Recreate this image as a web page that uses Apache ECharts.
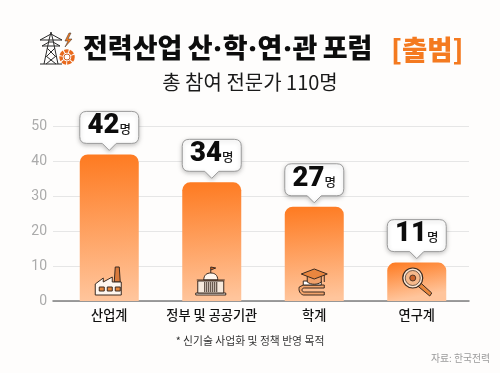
<!DOCTYPE html>
<html><head><meta charset="utf-8">
<style>html,body{margin:0;padding:0;background:#fefdfc}#c{width:500px;height:373px}</style>
<script src="https://cdn.jsdelivr.net/npm/echarts@6/dist/echarts.min.js"></script></head>
<body><div id="c"></div>
<script>
const categories = ['산업계', '정부 및 공공기관', '학계', '연구계'];
const values = [42, 34, 27, 11];
const yTicks = [0, 10, 20, 30, 40, 50];
const titleMain = '전력산업 산·학·연·관 포럼';
const titleTag = '[출범]';
const subtitle = '총 참여 전문가 110명';
const note = '* 신기술 사업화 및 정책 반영 목적';
const source = '자료: 한국전력';
const unit = '명';
const FONT = '"Noto Sans CJK KR"';
const TITLEFONT = 'Inter, "Noto Sans CJK KR"';
const INK = '#3a2a20';

function iconPath(d, x, y, fill, lw) {
  return { type: 'path', x: x, y: y, shape: { pathData: d },
    style: { fill: fill || 'none', stroke: INK, lineWidth: lw || 1 }, silent: true };
}
const icons = [
  [['M5 -19 L6 -34 H10 L11 -19 Z', '#d97a3c'],
   ['M-14 -6 V-17 L-6 -23 V-19 L3 -24 V-19 H12 V-6 Z', '#fff6ee'],
   ['M-10 -14 H-5 V-10 H-10 Z M-2 -14 H3 V-10 H-2 Z M6 -14 H11 V-10 H6 Z', '#e8873c']],
  [['M-16 -6 H14 V-8 H-16 Z', '#fff6ee'],
   ['M-14 -8 V-20 H12 V-8 Z', '#f6e9dc'],
   ['M-8 -21 C-8 -26 -5 -28 -1 -28 C3 -28 6 -26 6 -21 Z', '#fff6ee'],
   ['M-15 -21 H13', 'none'],
   ['M-1 -28 V-34 L4 -33 L-1 -31', '#e8691c'],
   ['M-7 -19 V-9 M-5 -19 V-9 M-3 -19 V-9 M-1 -19 V-9 M1 -19 V-9 M3 -19 V-9 M5 -19 V-9', 'none']],
  [['M-15 -14 C-16 -10 -14 -7 -11 -6 H10 V-9 H-10 C-13 -9 -13 -13 -10 -13 H10 V-16 H-11 Z', '#f3a46c'],
   ['M-11 -20 H7 V-16 H-11 Z', '#fff'],
   ['M-7 -26 V-19 C-3 -16 3 -16 7 -19 V-26 Z', '#f0a06a'],
   ['M-13 -27 L0 -32 L13 -27 L0 -22 Z', '#e9863f'],
   ['M10 -26 V-19', 'none']],
  [['M1 -15 L13 -5 L15 -8 L4 -18 Z', '#e8873c']]
];

const option = {
  backgroundColor: '#fefdfc',
  animation: false,
  textStyle: { fontFamily: FONT },
  grid: [
    { left: 53, right: 31, top: 126.5, bottom: 72 },
    { left: 58, right: 32, top: 126.5, bottom: 72 }
  ],
  xAxis: [
    { gridIndex: 0, type: 'category', data: categories, axisLabel: { show: false },
      axisTick: { show: false }, axisLine: { lineStyle: { color: '#7d7d7d', width: 1.5 } } },
    { gridIndex: 1, type: 'category', data: categories, axisTick: { show: false },
      axisLine: { show: false },
      axisLabel: { color: '#111', fontSize: 13.2, fontWeight: 500, margin: 7, fontFamily: FONT, interval: 0 } }
  ],
  yAxis: [
    { gridIndex: 0, type: 'value', min: 0, max: 50, interval: 10, axisLine: { show: false }, axisTick: { show: false },
      axisLabel: { color: '#ababab', fontSize: 14, margin: 6, fontFamily: 'Roboto',
        formatter: v => yTicks.includes(v) ? String(v) : '' },
      splitLine: { lineStyle: { color: '#e6e6e6', width: 1 } } },
    { gridIndex: 1, type: 'value', min: 0, max: 50, interval: 10, axisLine: { show: false }, axisTick: { show: false },
      axisLabel: { show: false }, splitLine: { show: false } }
  ],
  series: [
    { type: 'bar', xAxisIndex: 1, yAxisIndex: 1, data: values, barWidth: 59, z: 3,
      itemStyle: { borderRadius: [8, 8, 0, 0],
        color: { type: 'linear', x: 0, y: 0, x2: 0.12, y2: 1, colorStops: [
          { offset: 0, color: '#fe7a20' }, { offset: 1, color: '#ffc59c' }] } } },
    { type: 'custom', xAxisIndex: 1, yAxisIndex: 1, z: 5, data: values.map((v, i) => [i, v]),
      renderItem(params, api) {
        const i = api.value(0), p = api.coord([i, api.value(1)]);
        const W = 59, H = 32, cx = p[0], bot = p[1] - 11, top = bot - H, r = 7, l = cx - W / 2, rr = cx + W / 2;
        const d = `M${l + r} ${top} H${rr - r} Q${rr} ${top} ${rr} ${top + r} V${bot - r} Q${rr} ${bot} ${rr - r} ${bot} H${cx + 7} L${cx} ${bot + 7} L${cx - 7} ${bot} H${l + r} Q${l} ${bot} ${l} ${bot - r} V${top + r} Q${l} ${top} ${l + r} ${top} Z`;
        return { type: 'group', children: [
          { type: 'path', shape: { pathData: d }, style: { fill: '#fff', stroke: '#9c9c9c', lineWidth: 1,
            shadowColor: 'rgba(0,0,0,0.22)', shadowBlur: 4, shadowOffsetY: 1.5 } },
          { type: 'text', x: cx, y: top + H / 2 - 1, style: { text: '{n|' + values[i] + '}{u|' + unit + '}',
            align: 'center', verticalAlign: 'middle',
            rich: { n: { fontFamily: 'Roboto', fontSize: 27.5, fontWeight: 900, fill: '#0c0c0c' },
                    u: { fontFamily: FONT, fontSize: 12.5, fontWeight: 500, fill: '#1a1a1a', padding: [6, 0, 0, 0] } } } }
        ] };
      } },
    { type: 'custom', xAxisIndex: 1, yAxisIndex: 1, z: 6, data: values.map((v, i) => [i, 0]),
      renderItem(params, api) {
        const i = api.value(0), p = api.coord([i, 0]);
        const kids = icons[i].map(s => iconPath(s[0], p[0], p[1], s[1]));
        if (i === 3) {
          kids.push({ type: 'circle', shape: { cx: p[0] - 4, cy: p[1] - 23, r: 10 }, style: { fill: '#fbe5d2', stroke: INK, lineWidth: 1.2 } });
          kids.push({ type: 'circle', shape: { cx: p[0] - 4, cy: p[1] - 23, r: 7.5 }, style: { fill: '#f6b98b', stroke: INK, lineWidth: 0.7 } });
          kids.push({ type: 'circle', shape: { cx: p[0] - 4, cy: p[1] - 23, r: 3 }, style: { fill: '#c9622a', stroke: INK, lineWidth: 0.8 } });
        }
        return { type: 'group', children: kids };
      } },
    { type: 'custom', coordinateSystem: 'none', z: 6, data: [[0]],
      renderItem() {
        return { type: 'group', x: 40, y: 31, children: [
          { type: 'path', shape: { pathData: 'M0 33 H22 M4 33 L9 9 L11 1 L13 9 L18 33 M6 25 L16 33 M16 25 L6 33 M7 17 L15 25 M15 17 L7 25 M0 9 H22 L11 3 Z M2 15 H20 L13 11 H9 Z' },
            style: { fill: 'none', stroke: '#2a2a2a', lineWidth: 1 } },
          { type: 'path', shape: { pathData: 'M29 2 L25 10 H28 L25 16 L32 8 H28 L31 2 Z' }, style: { fill: '#f47a20', stroke: '#2a2a2a', lineWidth: 0.5 } },
          { type: 'circle', shape: { cx: 27, cy: 26, r: 6 }, style: { fill: '#fff', stroke: '#e8691c', lineWidth: 3.5, lineDash: [4, 1] } },
          { type: 'circle', shape: { cx: 27, cy: 26, r: 3 }, style: { fill: '#fff', stroke: '#c9622a', lineWidth: 1 } }
        ] };
      } }
  ],
  graphic: [
    { type: 'text', x: 83, y: 50, style: { text: titleMain, fontFamily: TITLEFONT, fontSize: 27, fontWeight: 900, fill: '#0d0d0d', verticalAlign: 'middle' } },
    { type: 'text', x: 391, y: 50, style: { text: titleTag, fontFamily: FONT, fontSize: 27.5, fontWeight: 900, fill: '#f47a20', verticalAlign: 'middle' } },
    { type: 'text', x: 250, y: 82, style: { text: subtitle, fontFamily: FONT, fontSize: 20, fontWeight: 400, fill: '#1a1a1a', align: 'center', verticalAlign: 'middle' } },
    { type: 'text', x: 250, y: 341, style: { text: note, fontFamily: FONT, fontSize: 10.8, fontWeight: 400, fill: '#333', align: 'center', verticalAlign: 'middle' } },
    { type: 'text', x: 490, y: 358, style: { text: source, fontFamily: FONT, fontSize: 9.8, fontWeight: 400, fill: '#9a9a9a', align: 'right', verticalAlign: 'middle' } }
  ]
};
const chart = echarts.init(document.getElementById('c'), null, { renderer: 'canvas' });
chart.setOption(option);
</script></body></html>
